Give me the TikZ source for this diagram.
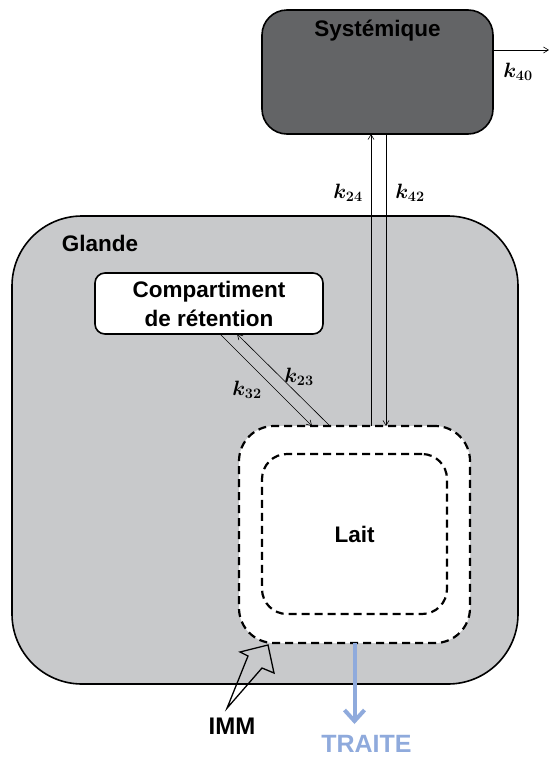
\documentclass[tikz,border=0pt]{standalone}
\usepackage{fontspec}
\setmainfont{Liberation Sans}
\usepackage{bm}
\usetikzlibrary{arrows.meta}
\definecolor{sysgray}{HTML}{636466}
\definecolor{glgray}{HTML}{C8C9CB}
\definecolor{traite}{HTML}{8FAADC}
\begin{document}
\begin{tikzpicture}[x = 1pt, y = -1pt,
        box/.style = {draw, line width = 1.6pt, rounded corners = #1, inner sep = 0pt, outer sep = 0pt},
        milk/.style = {draw, fill = white, line width = 2.2pt, dash pattern = on 8pt off 5pt, rounded corners = #1, inner sep = 0pt, outer sep = 0pt},
        title/.style = {font = \fontsize{22.5}{29}\selectfont\bfseries},
        rate/.style = {font = \fontsize{20}{24}\selectfont},
        flow/.style = {-{Straight Barb[length = 5pt, width = 6pt]}, line width = 0.6pt}]
        \useasboundingbox (0, 0) rectangle (549, 758);

        \node [box = 25pt, fill = sysgray, minimum width = 231pt, minimum height = 124pt] (sys) at (377.5, 72) {};
        \node [title] (systxt) at ([yshift = -21pt]sys.north) {Systémique};
        \node [box = 70pt, fill = glgray, minimum width = 506pt, minimum height = 468pt] (gl) at (265, 450) {};
        \node [title] (gltxt) at (100, 243) {Glande};
        \node [box = 10pt, fill = white, minimum width = 228pt, minimum height = 61pt, align = center, title] (comp) at (209, 303.5) {Compartiment\\de rétention};
        \node [milk = 35pt, minimum width = 231pt, minimum height = 217pt] (lait) at (354.5, 534.5) {};
        \node [milk = 25pt, minimum width = 185pt, minimum height = 160pt, title] (laitin) at (354.5, 534) {Lait};

        \coordinate (out) at (549, 50);
        \draw [flow] ([yshift = 22pt]sys.east) -- (out);
        \node [rate] (k40) at (518, 72) {$\bm{k_{40}}$};

        \draw [flow] ([xshift = 16.5pt]lait.north) -- ([xshift = 16.5pt]lait.north |- sys.south);
        \draw [flow] ([xshift = 31.5pt]lait.north |- sys.south) -- ([xshift = 31.5pt]lait.north);
        \node [rate] (k24) at (348, 193) {$\bm{k_{24}}$};
        \node [rate] (k42) at (410, 193) {$\bm{k_{42}}$};

        \draw [flow] ([xshift = 11pt]comp.south) -- ([xshift = -42.5pt]lait.north);
        \draw [flow] ([xshift = -24.5pt]lait.north) -- ([xshift = 28pt]comp.south);
        \node [rate] (k23) at (299, 377) {$\bm{k_{23}}$};
        \node [rate] (k32) at (247, 390) {$\bm{k_{32}}$};

        \node [font = \fontsize{24}{28}\selectfont\bfseries] (imm) at (232, 726) {IMM};
        \draw [line width = 1.3pt, line join = miter] (imm.north) ++(-5, -6) -- (248, 656) -- (240, 652) -- (268, 645) -- (274, 673) -- (262, 668) -- cycle;

        \node [font = \fontsize{25}{29}\selectfont\bfseries, text = traite] (tr) at (366.5, 744) {TRAITE};
        \coordinate (trend) at (354.5, 724);
        \draw [traite, line width = 4pt, -{Straight Barb[length = 11pt, width = 20pt]}] (lait.south) -- (trend);
    \end{tikzpicture}
\end{document}
